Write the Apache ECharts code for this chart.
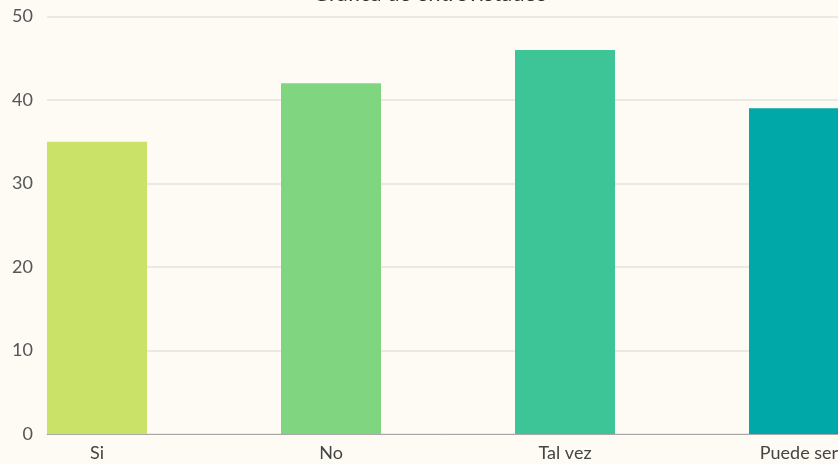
<!DOCTYPE html>
<html>
<head>
<meta charset="utf-8">
<script src="https://cdn.jsdelivr.net/npm/echarts@6/dist/echarts.min.js"></script>
<style>
  html, body { margin: 0; padding: 0; background: #fefbf5; }
  #chart { width: 838px; height: 464px; }
</style>
</head>
<body>
<div id="chart"></div>
<script>
// data
const categories = ['Si', 'No', 'Tal vez', 'Puede ser']
const respuestas = [35, 42, 46, 39]
const yTicks = [0, 10, 20, 30, 40, 50]

const barColors = ['#cbe269', '#80d680', '#3dc598', '#00a9a7']

const chart = echarts.init(document.getElementById('chart'))

chart.setOption({
  backgroundColor: '#fefbf5',
  color: barColors,
  textStyle: { fontFamily: 'Lato' },
  title: {
    text: 'Gráfica de entrevistados',
    left: 308,
    top: -22,
    textStyle: { fontFamily: 'Lato', fontSize: 22, fontWeight: 'normal', color: '#333' },
  },
  grid: {
    left: 47,
    right: -145,
    top: 16.5,
    bottom: 30,
    containLabel: false,
    outerBoundsMode: 'none',
  },
  xAxis: {
    type: 'category',
    data: categories,
    axisTick: { show: false },
    axisLine: { lineStyle: { color: '#a8a8a8', width: 1 } },
    axisLabel: {
      interval: 0,
      margin: 10,
      hideOverlap: false,
      formatter: (v) => `{a|${v}}`,
      rich: {
        a: { fontFamily: 'Lato', fontSize: 18, color: '#444', padding: [0, 134, 0, 0] },
      },
    },
  },
  yAxis: {
    type: 'value',
    min: yTicks[0],
    max: yTicks[yTicks.length - 1],
    interval: yTicks[1] - yTicks[0],
    axisLine: { show: false },
    axisTick: { show: false },
    axisLabel: { fontFamily: 'Lato', fontSize: 18, color: '#555', margin: 14 },
    splitLine: { lineStyle: { color: '#e6e3de', width: 1.5 } },
  },
  series: [
    {
      name: 'Respuestas',
      type: 'bar',
      colorBy: 'data',
      data: respuestas,
      barWidth: 100,
      barGap: '34%',
    },
    {
      // empty companion series keeps each bar on the left of its band
      name: 'hueco',
      type: 'bar',
      data: categories.map(() => null),
      barWidth: 100,
    },
  ],
})
</script>
</body>
</html>
